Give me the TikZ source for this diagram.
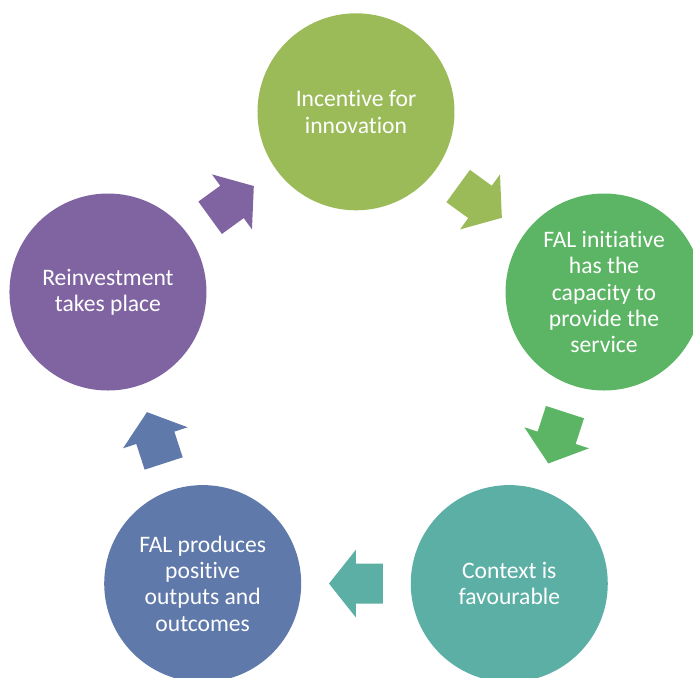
\documentclass[tikz,border=0pt]{standalone}
\usepackage{fontspec}
\setmainfont{Carlito}[Ligatures=NoCommon]
\usetikzlibrary{positioning,calc}
\definecolor{olive}{HTML}{9BBB59}
\definecolor{leaf}{HTML}{5CB564}
\definecolor{sea}{HTML}{5CAFA5}
\definecolor{slate}{HTML}{5F79AA}
\definecolor{plum}{HTML}{8064A2}
\tikzset{stage/.style={circle, fill=#1, draw=none, minimum size=98.5pt, inner sep=0pt,
                       text=white, align=center, font=\fontsize{11.8}{13.2}\selectfont},
         cyclearrow/.pic={\fill[#1] (-27,20) -- (0,20) -- (0,34) -- (27,0) -- (0,-34) -- (0,-20) -- (-27,-20) -- cycle;}
        }
\begin{document}
\begin{tikzpicture}[x=0.5pt, y=0.5pt]
\useasboundingbox (-356,-304.4) rectangle (337,372.6);
% stages of the cycle
\node[stage=olive] (incentive) at (90:260.8) {Incentive for\\innovation};
\node[stage=leaf] (capacity) at (18:260.8) {FAL initiative\\has the\\capacity to\\provide the\\service};
\node[stage=sea] (context) at (-54:260.8) {Context is\\favourable};
\node[stage=slate] (outputs) at (-126:260.8) {FAL produces\\positive\\outputs and\\outcomes};
\node[stage=plum] (reinvest) at (162:260.8) {Reinvestment\\takes place};
% arrows between stages
\pic[rotate=-36] at ($(incentive)!0.5!(capacity)$) {cyclearrow=olive};
\pic[rotate=-108] at ($(capacity)!0.5!(context)$) {cyclearrow=leaf};
\pic[rotate=180] at ($(context)!0.5!(outputs)$) {cyclearrow=sea};
\pic[rotate=108] at ($(outputs)!0.5!(reinvest)$) {cyclearrow=slate};
\pic[rotate=36] at ($(reinvest)!0.5!(incentive)$) {cyclearrow=plum};
\end{tikzpicture}
\end{document}
